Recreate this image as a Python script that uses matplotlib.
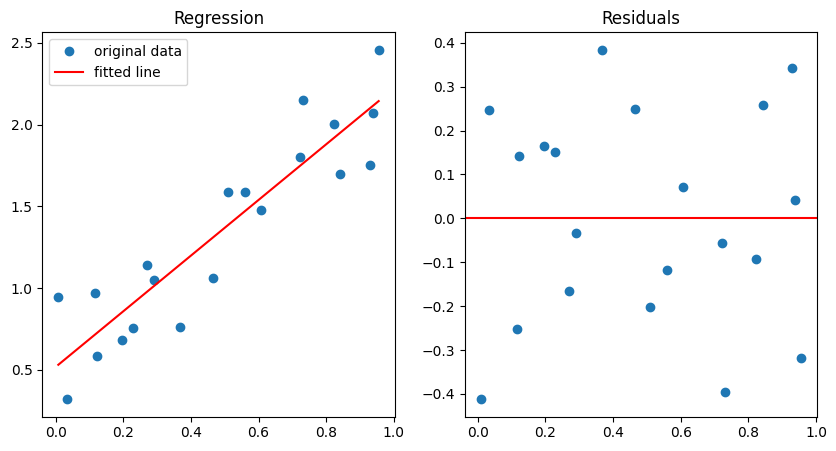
import numpy as np
import matplotlib
matplotlib.use("Agg")
import matplotlib.pyplot as plt

x = np.array([0.008, 0.033, 0.116, 0.122, 0.195, 0.228, 0.270, 0.290, 0.368, 0.466,
              0.510, 0.560, 0.608, 0.721, 0.732, 0.822, 0.842, 0.928, 0.939, 0.955])
y = np.array([0.945, 0.321, 0.971, 0.586, 0.682, 0.755, 1.141, 1.049, 0.763, 1.061,
              1.585, 1.585, 1.476, 1.799, 2.152, 2.006, 1.695, 1.750, 2.073, 2.457])
residuals = np.array([-0.412, 0.246, -0.253, 0.141, 0.165, 0.152, -0.166, -0.034, 0.384, 0.250,
                      -0.203, -0.118, 0.072, -0.057, -0.395, -0.093, 0.259, 0.343, 0.041, -0.319])
slope = 1.702
intercept = 0.518

W, H = 836, 451
fig = plt.figure(figsize=(W / 100, H / 100), dpi=100)
ax1 = fig.add_axes([42.3 / W, (H - 416.7) / H, 352.4 / W, 384.4 / H])
ax2 = fig.add_axes([464.5 / W, (H - 416.7) / H, 352.4 / W, 384.4 / H])

ax1.plot(x, y, 'o', label='original data')
ax1.plot(x, intercept + slope * x, 'r', label='fitted line')
ax1.legend(loc='upper left')
ax1.set_title('Regression')

ax2.plot(x, residuals, 'o')
ax2.axhline(0, color='r')
ax2.set_title('Residuals')

fig.savefig('out.png', dpi=100)
